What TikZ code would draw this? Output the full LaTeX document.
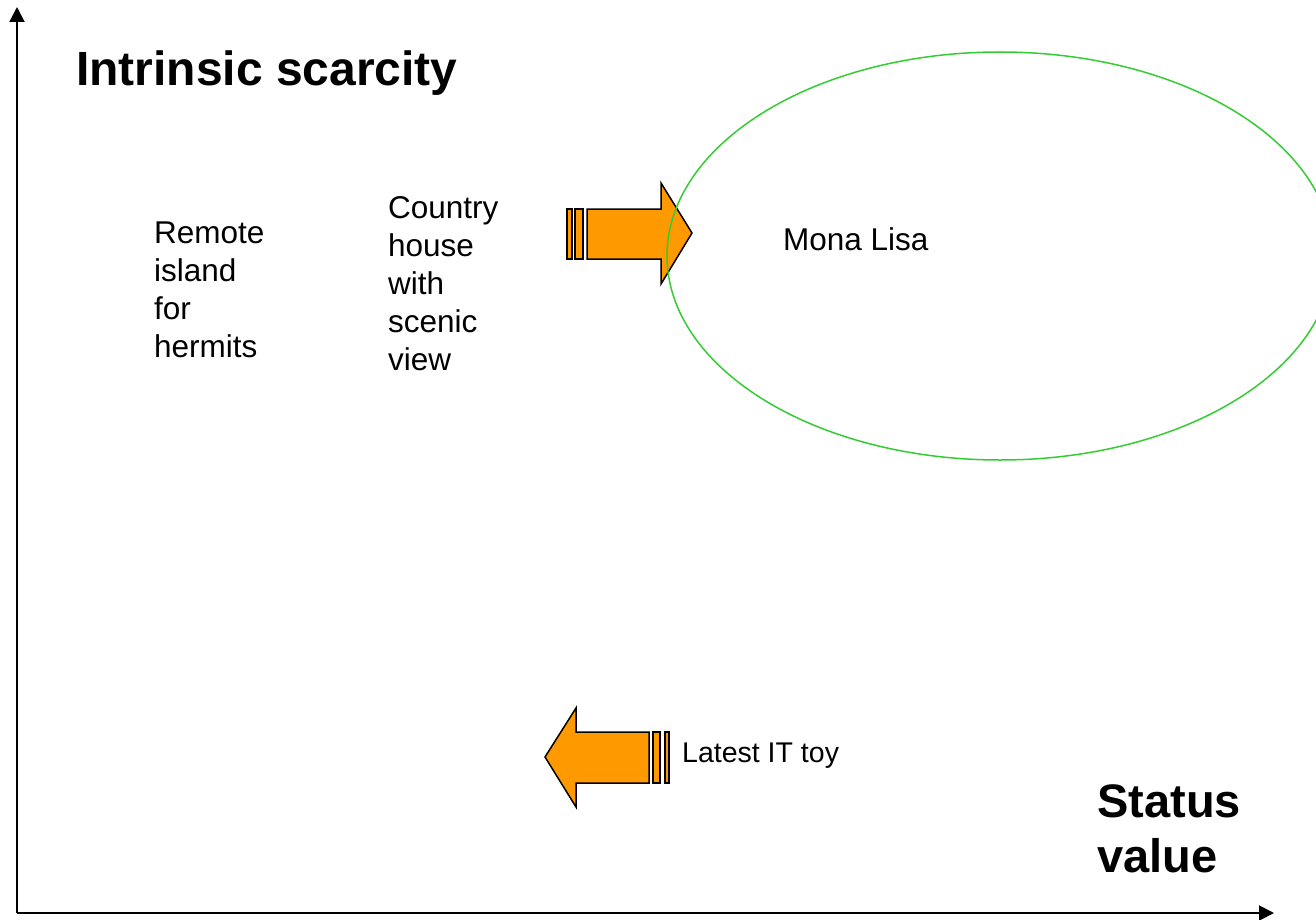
\documentclass[tikz,border=0pt]{standalone}
\usepackage{fontspec}
\setmainfont{Liberation Sans}
\usetikzlibrary{arrows.meta}
\definecolor{arroworange}{HTML}{FF9900}
\definecolor{ellgreen}{HTML}{33CC33}
\begin{document}
\begin{tikzpicture}[x=1pt,y=-1pt,
  blockarrow/.style={fill=arroworange, draw=black, line width=1.5pt, line join=miter},
  axisline/.style={line width=2pt, -{Triangle[length=15pt,width=15pt]}},
  small/.style={inner sep=0pt, anchor=north west, align=left, font=\fontsize{31.5}{38}\selectfont},
  big/.style={inner sep=0pt, anchor=north west, align=left, font=\fontsize{47}{55}\selectfont\bfseries}]
\useasboundingbox (0,0) rectangle (1316,920);
\clip (0,0) rectangle (1316,920);
% axes
\coordinate (origin) at (17,913);
\coordinate (ytip) at (17,7);
\coordinate (xtip) at (1274,913);
\draw[axisline] (origin) -- (ytip);
\draw[axisline] (origin) -- (xtip);
% top right-pointing arrow
\draw[blockarrow] (567,209) rectangle (572,259);
\draw[blockarrow] (575,209) rectangle (583,259);
\draw[blockarrow] (587,209) -- (661,209) -- (661,183) -- (692,233) -- (661,284) -- (661,259) -- (587,259) -- cycle;
% bottom left-pointing arrow
\draw[blockarrow] (545,757) -- (576,708) -- (576,732) -- (649,732) -- (649,783) -- (576,783) -- (576,807) -- cycle;
\draw[blockarrow] (653,732) rectangle (660,783);
\draw[blockarrow] (665,732) rectangle (669,783);
% ellipse
\draw[ellgreen, line width=1.5pt] (1000,256) ellipse [x radius=333, y radius=204];
% texts
\node[big, font=\fontsize{48}{55}\selectfont\bfseries] (ylabel) at (76,51) {Intrinsic scarcity};
\node[big] (xlabel) at (1097,784) {Status\\value};
\node[small] (island) at (154,222) {Remote\\island\\for\\hermits};
\node[small] (house) at (388,196) {Country\\house\\with\\scenic\\view};
\node[small] (mona) at (783,227) {Mona Lisa};
\node[small, font=\fontsize{28.5}{38}\selectfont] (toy) at (682,743) {Latest IT toy};
\end{tikzpicture}
\end{document}
